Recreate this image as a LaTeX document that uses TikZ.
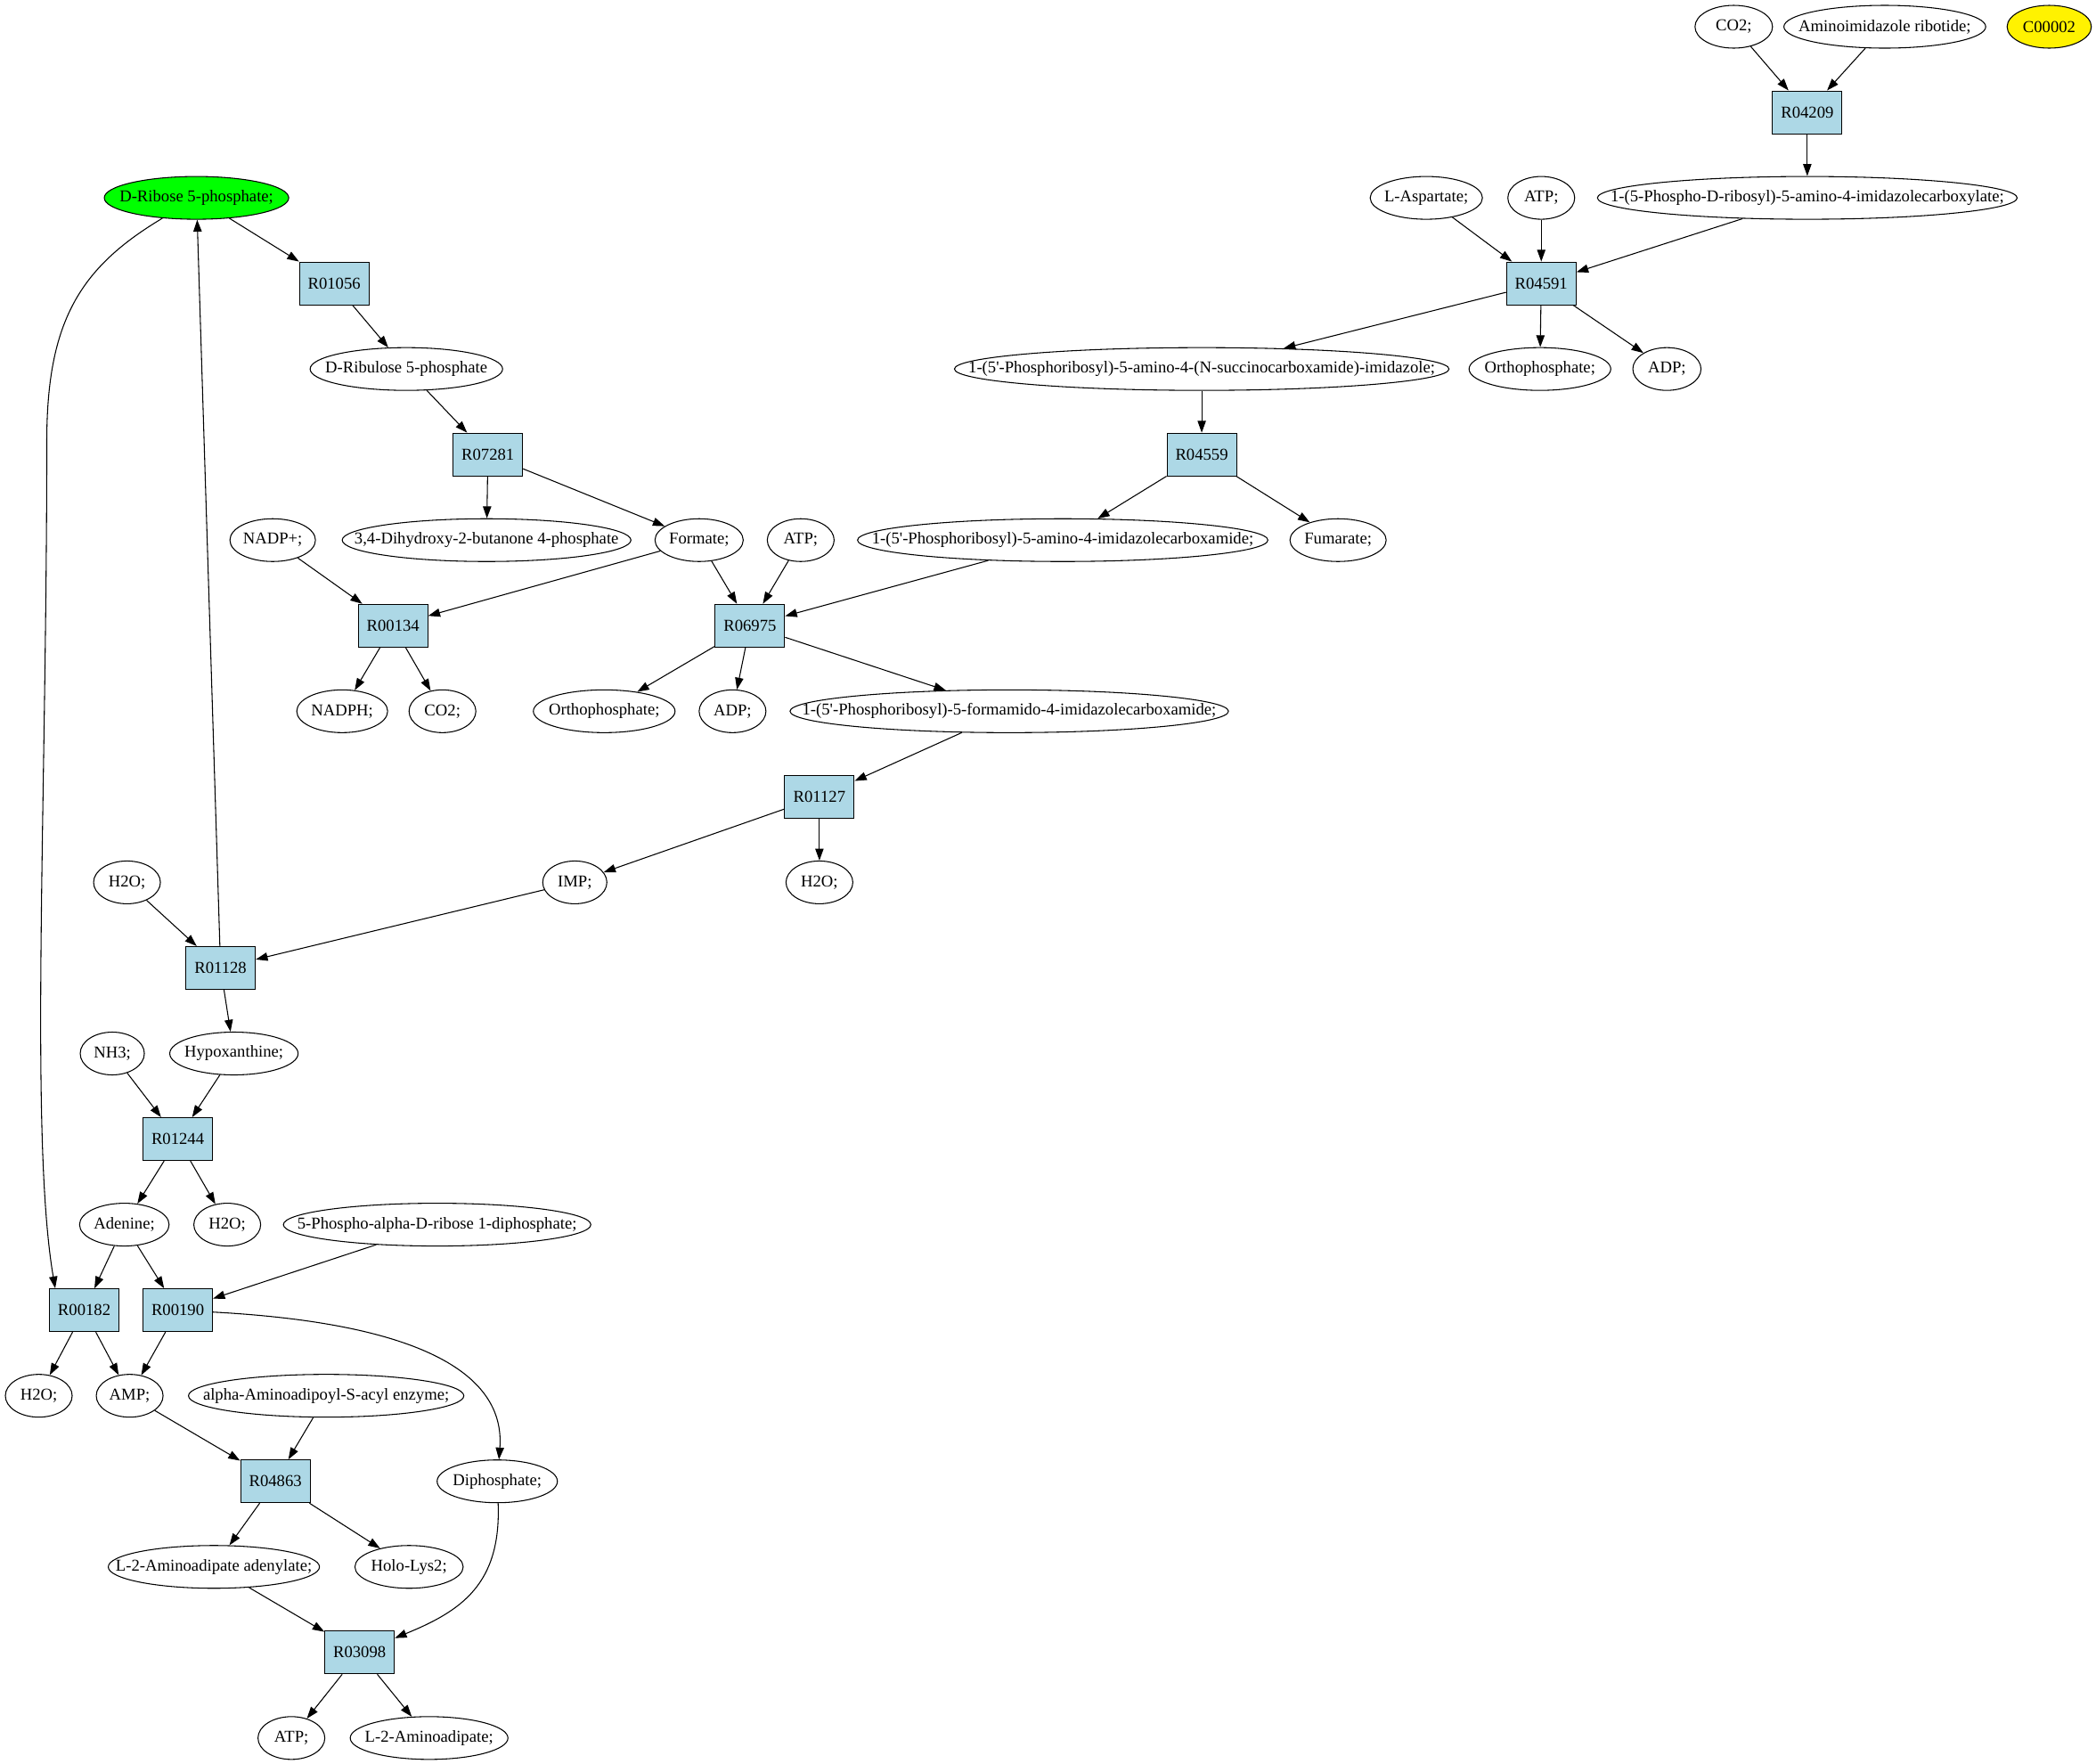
\documentclass[tikz,border=0pt]{standalone}
\usepackage{fontspec}
\setmainfont{Liberation Serif}
\usetikzlibrary{arrows.meta, shapes.geometric}

\definecolor{rxnblue}{HTML}{ADD8E6}
\newcommand{\lb}[1]{\makebox[0pt]{#1}}

\begin{document}
\begin{tikzpicture}[x=1.1255pt, y=-1.1255pt, >={Triangle[length=10pt,width=7pt]},
    line width=0.8pt, font=\fontsize{14}{16}\selectfont,
    met/.style={ellipse, draw, fill=white, inner sep=0pt, minimum height=36pt, minimum width=#1*1.1255pt},
    rxn/.style={rectangle, draw, fill=rxnblue, inner sep=0pt, minimum height=36pt, minimum width=58.5pt}]

      \useasboundingbox (0,0) rectangle (1568,1319);

      % top right
      \node[met=58] (co2a) at (1297,20) {\lb{CO2;}};
      \node[met=151] (air) at (1410,20) {\lb{Aminoimidazole ribotide;}};
      \node[met=63, fill=yellow] (c2) at (1533,20) {\lb{C00002}};
      \node[rxn] (r04209) at (1352,84) {R04209};
      \node[met=314] (cair) at (1352,148) {\lb{1-(5-Phospho-D-ribosyl)-5-amino-4-imidazolecarboxylate;}};
      \node[met=84] (asp) at (1067,148) {\lb{L-Aspartate;}};
      \node[met=50] (atpa) at (1153,148) {\lb{ATP;}};
      \node[rxn] (r04591) at (1153,212) {R04591};
      \node[met=370] (saicar) at (899,276) {\lb{1-(5\textquotesingle-Phosphoribosyl)-5-amino-4-(N-succinocarboxamide)-imidazole;}};
      \node[met=106] (pia) at (1152,276) {\lb{Orthophosphate;}};
      \node[met=51] (adpa) at (1247,276) {\lb{ADP;}};
      \node[rxn] (r04559) at (899,340) {R04559};
      \node[met=307] (aicar) at (795,404) {\lb{1-(5\textquotesingle-Phosphoribosyl)-5-amino-4-imidazolecarboxamide;}};
      \node[met=72] (fum) at (1001,404) {\lb{Fumarate;}};

      % left part
      \node[met=138, fill=green] (rib) at (147,148) {\lb{D-Ribose 5-phosphate;}};
      \node[rxn] (r01056) at (250,212) {R01056};
      \node[met=144] (ru5p) at (304,276) {\lb{D-Ribulose 5-phosphate}};
      \node[rxn] (r07281) at (365,340) {R07281};
      \node[met=216] (dhbp) at (364,404) {\lb{3,4-Dihydroxy-2-butanone 4-phosphate}};
      \node[met=66] (form) at (523,404) {\lb{Formate;}};
      \node[met=64] (nadp) at (204,404) {\lb{NADP+;}};
      \node[met=50] (atpb) at (599,404) {\lb{ATP;}};
      \node[rxn] (r00134) at (294,468) {R00134};
      \node[rxn] (r06975) at (561,468) {R06975};
      \node[met=68] (nadph) at (256,532) {\lb{NADPH;}};
      \node[met=50] (co2b) at (331,532) {\lb{CO2;}};
      \node[met=106] (pib) at (452,532) {\lb{Orthophosphate;}};
      \node[met=50] (adpb) at (548,532) {\lb{ADP;}};
      \node[met=328] (faicar) at (755,532) {\lb{1-(5\textquotesingle-Phosphoribosyl)-5-formamido-4-imidazolecarboxamide;}};
      \node[rxn] (r01127) at (613,596) {R01127};
      \node[met=48] (imp) at (430,660) {\lb{IMP;}};
      \node[met=50] (h2oa) at (613,660) {\lb{H2O;}};
      \node[met=50] (h2ob) at (95,660) {\lb{H2O;}};
      \node[rxn] (r01128) at (165,724) {R01128};
      \node[met=48] (nh3) at (84,788) {\lb{NH3;}};
      \node[met=96] (hyp) at (175,788) {\lb{Hypoxanthine;}};
      \node[rxn] (r01244) at (133,852) {R01244};
      \node[met=67] (ade) at (93,916) {\lb{Adenine;}};
      \node[met=50] (h2oc) at (170,916) {\lb{H2O;}};
      \node[met=230] (prpp) at (327,916) {\lb{5-Phospho-alpha-D-ribose 1-diphosphate;}};
      \node[rxn] (r00182) at (63,980) {R00182};
      \node[rxn] (r00190) at (133,980) {R00190};
      \node[met=50] (h2od) at (29,1044) {\lb{H2O;}};
      \node[met=50] (amp) at (97,1044) {\lb{AMP;}};
      \node[met=206] (aasa) at (244,1044) {\lb{alpha-Aminoadipoyl-S-acyl enzyme;}};
      \node[rxn] (r04863) at (206,1108) {R04863};
      \node[met=90] (diph) at (372,1108) {\lb{Diphosphate;}};
      \node[met=158] (aaad) at (160,1172) {\lb{L-2-Aminoadipate adenylate;}};
      \node[met=81] (holo) at (306,1172) {\lb{Holo-Lys2;}};
      \node[rxn] (r03098) at (269,1236) {R03098};
      \node[met=50] (atpc) at (218,1300) {\lb{ATP;}};
      \node[met=118] (aad) at (321,1300) {\lb{L-2-Aminoadipate;}};

      \path[->]
      (co2a) edge (r04209)
      (air) edge (r04209)
      (r04209) edge (cair)
      (cair) edge (r04591)
      (asp) edge (r04591)
      (atpa) edge (r04591)
      (r04591) edge (saicar)
      (r04591) edge (pia)
      (r04591) edge (adpa)
      (saicar) edge (r04559)
      (r04559) edge (aicar)
      (r04559) edge (fum)

      (rib) edge (r01056)
      (r01056) edge (ru5p)
      (ru5p) edge (r07281)
      (r07281) edge (dhbp)
      (r07281) edge (form)
      (form) edge (r00134)
      (nadp) edge (r00134)
      (r00134) edge (nadph)
      (r00134) edge (co2b)
      (form) edge (r06975)
      (atpb) edge (r06975)
      (aicar) edge (r06975)
      (r06975) edge (pib)
      (r06975) edge (adpb)
      (r06975) edge (faicar)
      (faicar) edge (r01127)
      (r01127) edge (imp)
      (r01127) edge (h2oa)
      (imp) edge (r01128)
      (h2ob) edge (r01128)
      (r01128) edge (rib)
      (r01128) edge (hyp)
      (nh3) edge (r01244)
      (hyp) edge (r01244)
      (r01244) edge (ade)
      (r01244) edge (h2oc)
      (ade) edge (r00182)
      (ade) edge (r00190)
      (prpp) edge (r00190)
      (r00182) edge (h2od)
      (r00182) edge (amp)
      (r00190) edge (amp)
      (amp) edge (r04863)
      (aasa) edge (r04863)
      (r04863) edge (aaad)
      (r04863) edge (holo)
      (aaad) edge (r03098)
      (r03098) edge (atpc)
      (r03098) edge (aad)
      ;

      % the three bent ones
      \draw[->] (rib) .. controls (60,200) and (35,240) .. (35,330) .. controls (35,600) and (22,850) .. (r00182.143);
      \draw[->] (r00190) .. controls (320,990) and (378,1030) .. (diph);
      \draw[->] (diph) .. controls (375,1185) and (345,1205) .. (r03098);
\end{tikzpicture}
\end{document}
